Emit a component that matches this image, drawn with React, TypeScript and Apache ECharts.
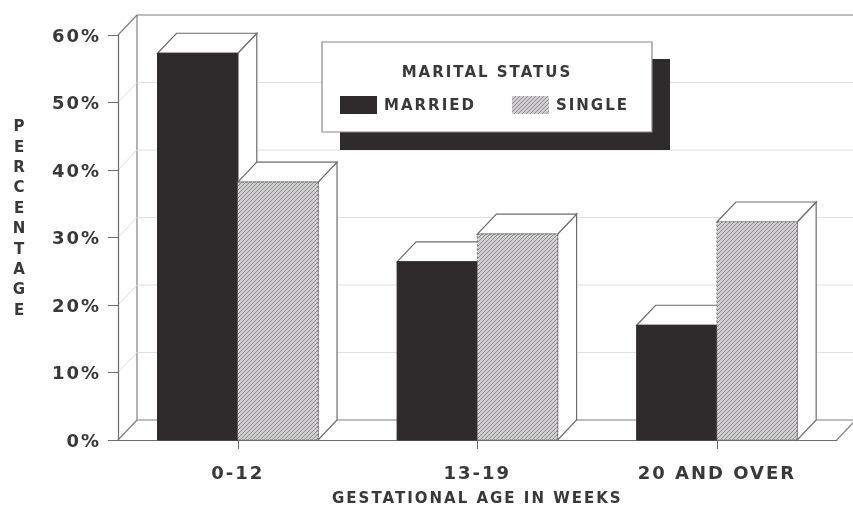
import React, { useEffect, useRef } from "react";
import * as echarts from "echarts";

const categories = ["0-12", "13-19", "20 AND OVER"];
const married = [57.3, 26.4, 17];
const single = [38.2, 30.5, 32.3];
const yTicks = [0, 10, 20, 30, 40, 50, 60];
const seriesNames = ["MARRIED", "SINGLE"];
const yTitle = "PERCENTAGE";
const xTitle = "GESTATIONAL AGE IN WEEKS";
const legendTitle = "MARITAL STATUS";

const DX = 19;
const DY = -20;
const BAR_RATIO = 0.335;
const FONT = "'DejaVu Sans', sans-serif";
const INK = "#3a383a";
const LINE = "#6e6c6e";
const DARK = "#2f2a2c";

function makeHatch(): any {
  const c = document.createElement("canvas");
  c.width = 4;
  c.height = 4;
  const g = c.getContext("2d")!;
  g.fillStyle = "#d0ced0";
  g.fillRect(0, 0, 4, 4);
  g.strokeStyle = "#8e8c8e";
  g.lineWidth = 1;
  g.beginPath();
  g.moveTo(-1, 1);
  g.lineTo(1, -1);
  g.moveTo(-1, 5);
  g.lineTo(5, -1);
  g.moveTo(3, 5);
  g.lineTo(5, 3);
  g.stroke();
  return { image: c.toDataURL(), repeat: "repeat", imageWidth: 4, imageHeight: 4 };
}

function barItem(side: -1 | 1, front: any, edge: any) {
  return (_: any, api: any) => {
    const cat = api.value(0);
    const top = api.coord([cat, api.value(1)]);
    const base = api.coord([cat, 0]);
    const w = api.size([1, 0])[0] * BAR_RATIO;
    const x0 = side < 0 ? top[0] - w : top[0];
    const x1 = x0 + w;
    const faceStyle = { fill: "#ffffff", stroke: LINE, lineWidth: 1.2 };
    return {
      type: "group",
      children: [
        {
          type: "polygon",
          shape: { points: [[x1, top[1]], [x1 + DX, top[1] + DY], [x1 + DX, base[1] + DY], [x1, base[1]]] },
          style: faceStyle,
        },
        {
          type: "polygon",
          shape: { points: [[x0, top[1]], [x0 + DX, top[1] + DY], [x1 + DX, top[1] + DY], [x1, top[1]]] },
          style: faceStyle,
        },
        {
          type: "rect",
          shape: { x: x0, y: top[1], width: w, height: base[1] - top[1] },
          style: { fill: front, ...edge },
        },
      ],
    };
  };
}

function wallItem(params: any, api: any) {
  const cs = params.coordSys;
  const tick = api.value(1);
  const y = api.coord([0, tick])[1];
  const left = cs.x;
  const right = cs.x + cs.width;
  const outer = tick === 0 || tick === 60;
  const color = outer ? "#807e80" : "#e2e0e2";
  const children: any[] = [
    {
      type: "line",
      shape: { x1: left, y1: y, x2: left + DX, y2: y + DY },
      style: { stroke: color, lineWidth: outer ? 1.2 : 1 },
    },
    {
      type: "line",
      shape: { x1: left + DX, y1: y + DY, x2: right + DX + 20, y2: y + DY },
      style: { stroke: color, lineWidth: outer ? 1.2 : 1 },
    },
  ];
  if (tick === 0) {
    children.push(
      {
        type: "line",
        shape: { x1: left + DX, y1: y + DY, x2: left + DX, y2: cs.y + DY },
        style: { stroke: "#807e80", lineWidth: 1.2 },
      },
      {
        type: "line",
        shape: { x1: right, y1: y, x2: right + DX, y2: y + DY },
        style: { stroke: "#807e80", lineWidth: 1.2 },
      }
    );
  }
  return { type: "group", children };
}

export default function App() {
  const ref = useRef<HTMLDivElement>(null);
  useEffect(() => {
    const chart = echarts.init(ref.current!, null, { renderer: "svg" });
    const hatch = makeHatch();
    const tickFont = { fontFamily: FONT, fontWeight: "bold" as const, color: INK };
    chart.setOption({
      animation: false,
      backgroundColor: "#fefefe",
      grid: { left: 118, right: 16.3, top: 35, bottom: 68, outerBoundsMode: "none" },
      legend: {
        left: 340,
        top: 96,
        orient: "horizontal",
        icon: "rect",
        itemWidth: 37,
        itemHeight: 18,
        itemGap: 50,
        padding: 0,
        data: seriesNames,
        selectedMode: false,
        textStyle: { ...tickFont, fontSize: 15, padding: [3, 0, 0, 2] },
      },
      xAxis: {
        type: "category",
        data: categories,
        axisLine: { lineStyle: { color: LINE, width: 1.2 } },
        axisTick: { show: true, alignWithLabel: true, length: 9, lineStyle: { color: LINE } },
        axisLabel: { ...tickFont, fontSize: 18, margin: 23, interval: 0 },
        name: xTitle,
        nameLocation: "middle",
        nameGap: 50,
        nameTextStyle: { ...tickFont, fontSize: 15 },
      },
      yAxis: {
        type: "value",
        min: 0,
        max: 60,
        interval: 10,
        splitLine: { show: false },
        axisLine: { show: true, lineStyle: { color: LINE, width: 1.2 } },
        axisTick: { show: true, length: 10, lineStyle: { color: LINE } },
        axisLabel: {
          ...tickFont,
          fontSize: 18,
          margin: 17,
          padding: [4, 0, 0, 0],
          formatter: "{value}%",
        },
      },
      graphic: [
        {
          type: "rect",
          z: 1,
          shape: { x: 340, y: 59, width: 330, height: 91 },
          style: { fill: DARK },
        },
        {
          type: "rect",
          z: 1,
          shape: { x: 322, y: 42, width: 330, height: 90 },
          style: { fill: "#ffffff", stroke: "#8a888a", lineWidth: 1.2 },
        },
        {
          type: "text",
          z: 2,
          x: 487,
          y: 72,
          style: {
            text: legendTitle,
            fill: INK,
            font: `bold 15px ${FONT}`,
            textAlign: "center",
            textVerticalAlign: "middle",
          },
        },
        {
          type: "text",
          z: 2,
          x: 20,
          y: 218,
          style: {
            text: yTitle.split("").join("\n"),
            fill: INK,
            font: `bold 15px ${FONT}`,
            lineHeight: 20.4,
            textAlign: "center",
            textVerticalAlign: "middle",
          },
        },
      ],
      series: [
        {
          type: "custom",
          name: "wall",
          silent: true,
          clip: false,
          z: 0,
          encode: { x: 0, y: 1 },
          data: yTicks.map((t) => [0, t]),
          renderItem: wallItem,
        },
        {
          type: "custom",
          name: seriesNames[0],
          clip: false,
          z: 3,
          itemStyle: { color: DARK },
          encode: { x: 0, y: 1 },
          data: married.map((v, i) => [i, v]),
          renderItem: barItem(-1, DARK, { stroke: DARK, lineWidth: 1 }),
        },
        {
          type: "custom",
          name: seriesNames[1],
          clip: false,
          z: 3,
          itemStyle: { color: hatch },
          encode: { x: 0, y: 1 },
          data: single.map((v, i) => [i, v]),
          renderItem: barItem(1, hatch, { stroke: "#6e6c6e", lineWidth: 1, lineDash: [2, 2] }),
        },
      ],
    });
    return () => chart.dispose();
  }, []);
  return (
    <div
      ref={ref}
      style={{
        position: "absolute",
        left: 0,
        top: 0,
        width: 853,
        height: 508,
        letterSpacing: "2px",
        filter: "blur(0.7px)",
      }}
    />
  );
}
